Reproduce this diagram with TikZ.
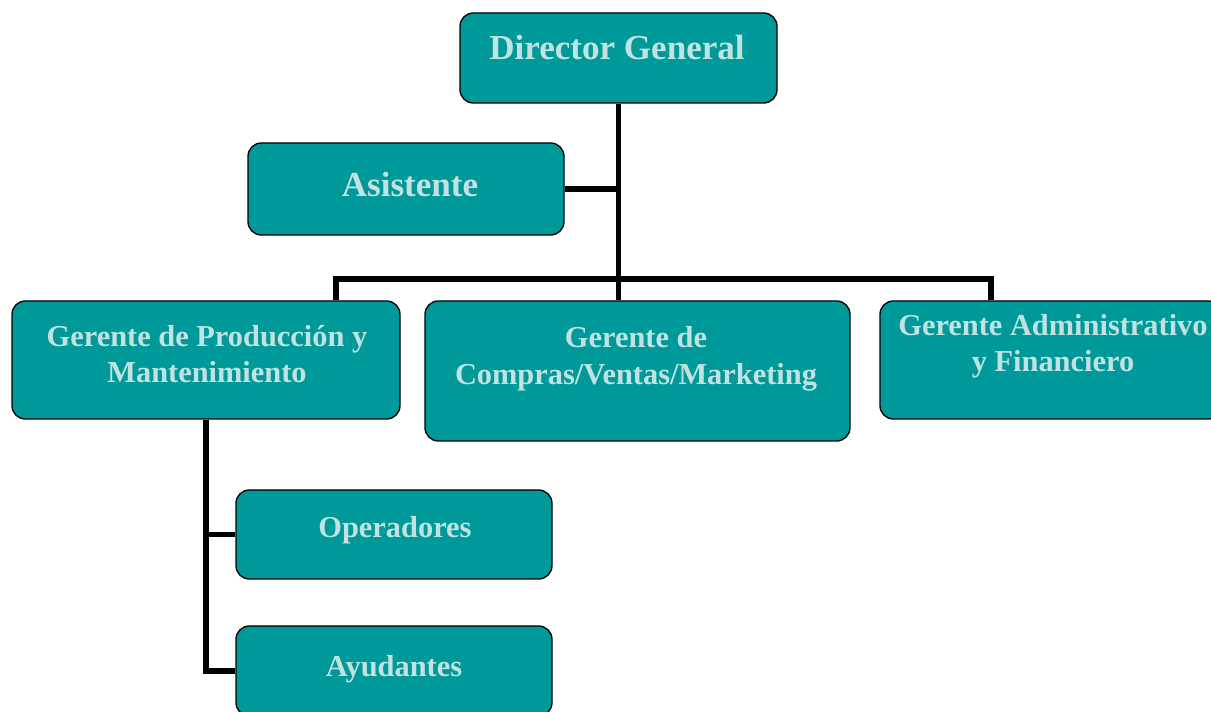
\documentclass[tikz,border=0pt]{standalone}
\usepackage{fontspec}
\setmainfont{Liberation Serif}
\usepackage{tikz}
\definecolor{tealbox}{HTML}{009999}
\definecolor{tealtext}{HTML}{C2E2E2}
\tikzset{
  box/.style={draw=black, line width=1pt, fill=tealbox, rounded corners=10pt, inner sep=0pt},
  lbl/.style={text=tealtext, font=\bfseries\fontsize{22.8}{27}\selectfont, align=center, inner sep=0pt},
  biglbl/.style={lbl, font=\bfseries\fontsize{26.3}{30}\selectfont},
  conn/.style={draw=black, line width=4pt}
}
\begin{document}
\begin{tikzpicture}[x=0.75pt, y=-0.75pt]
  \clip (0,0) rectangle (1211,712);
  % boxes
  \node[box, minimum width=237.75pt, minimum height=67.5pt] (dir) at (618.5,58) {};
  \node[box, minimum width=237pt, minimum height=69pt] (asis) at (406,189) {};
  \node[box, minimum width=291pt, minimum height=88.5pt] (prod) at (206,360) {};
  \node[box, minimum width=318.75pt, minimum height=105pt] (comp) at (637.5,371) {};
  \node[box, minimum width=256.5pt, minimum height=88.5pt] (adm) at (1051,360) {};
  \node[box, minimum width=237pt, minimum height=66.75pt] (ope) at (394,534.5) {};
  \node[box, minimum width=237pt, minimum height=67.5pt] (ayu) at (394,671) {};

  % texts
  \node[biglbl] (dirtxt) at (617,48) {Director General};
  \node[biglbl] (asistxt) at (410,185) {Asistente};
  \node[lbl] (prodtxt) at (207,354) {Gerente de Producción y\\Mantenimiento};
  \node[lbl] (comptxt) at (636,359) {Gerente de\\[1pt]Compras/Ventas/Marketing};
  \node[lbl] (admtxt) at (1053,346) {Gerente Administrativo\\y Financiero};
  \node[lbl] (opetxt) at (395,530) {Operadores};
  \node[lbl] (ayutxt) at (394,669) {Ayudantes};

  % connectors
  \coordinate (jl) at (336,279);
  \coordinate (jr) at (991,279);
  \path[conn] (dir.south) -- (dir.south |- comp.north);
  \path[conn] (asis.east) -- (asis.east -| dir.south);
  \path[conn] (jl |- prod.north) -- (jl) -- (jr) -- (jr |- adm.north);
  \path[conn] (prod.south) -- (prod.south |- ayu.west) -- (ayu.west);
  \path[conn] (prod.south |- ope.west) -- (ope.west);
\end{tikzpicture}
\end{document}
